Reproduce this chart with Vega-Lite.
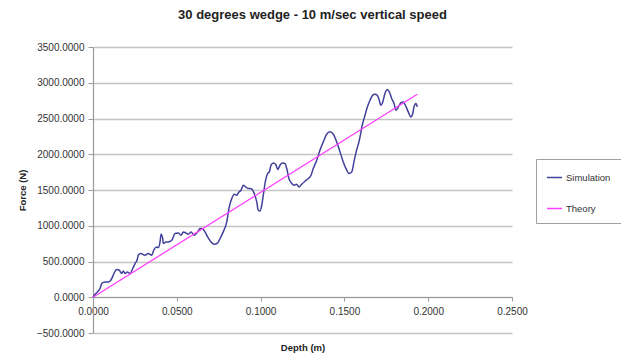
{
  "$schema": "https://vega.github.io/schema/vega-lite/v6.json",
  "autosize": {"type": "none"},
  "padding": {"left": 93, "top": 47, "right": 109, "bottom": 23},
  "width": 419,
  "height": 286,
  "background": "white",
  "title": {
    "text": "30 degrees wedge - 10 m/sec vertical speed",
    "font": "Liberation Sans",
    "fontSize": 13,
    "fontWeight": "bold",
    "color": "#222222",
    "anchor": "middle",
    "dx": 10,
    "offset": 20
  },
  "config": {
    "view": {"stroke": null},
    "font": "Liberation Sans",
    "axis": {"labelOverlap": false, "labelFlush": false}
  },
  "datasets": {
    "sim": [
      {"depth": 0, "force": 0}, {"depth": 0.0012, "force": 42}, {"depth": 0.0026, "force": 74}, {"depth": 0.0042, "force": 122},
      {"depth": 0.0052, "force": 192}, {"depth": 0.0072, "force": 214}, {"depth": 0.0091, "force": 214}, {"depth": 0.0112, "force": 262},
      {"depth": 0.0125, "force": 332}, {"depth": 0.0141, "force": 388}, {"depth": 0.0157, "force": 378}, {"depth": 0.0171, "force": 332},
      {"depth": 0.0181, "force": 368}, {"depth": 0.0191, "force": 332}, {"depth": 0.0205, "force": 354}, {"depth": 0.0221, "force": 332},
      {"depth": 0.0237, "force": 402}, {"depth": 0.0251, "force": 471}, {"depth": 0.0264, "force": 527}, {"depth": 0.0270, "force": 588},
      {"depth": 0.0285, "force": 611}, {"depth": 0.0310, "force": 588}, {"depth": 0.0330, "force": 611}, {"depth": 0.0350, "force": 588},
      {"depth": 0.0364, "force": 667}, {"depth": 0.0380, "force": 704}, {"depth": 0.0390, "force": 695}, {"depth": 0.0400, "force": 774},
      {"depth": 0.0406, "force": 881}, {"depth": 0.0416, "force": 821}, {"depth": 0.0419, "force": 751}, {"depth": 0.0436, "force": 774},
      {"depth": 0.0449, "force": 774}, {"depth": 0.0470, "force": 797}, {"depth": 0.0489, "force": 891}, {"depth": 0.0509, "force": 900},
      {"depth": 0.0525, "force": 867}, {"depth": 0.0539, "force": 914}, {"depth": 0.0553, "force": 900}, {"depth": 0.0569, "force": 881},
      {"depth": 0.0585, "force": 914}, {"depth": 0.0604, "force": 867}, {"depth": 0.0619, "force": 900}, {"depth": 0.0628, "force": 928},
      {"depth": 0.0638, "force": 961}, {"depth": 0.0652, "force": 961}, {"depth": 0.0668, "force": 914}, {"depth": 0.0684, "force": 844},
      {"depth": 0.0704, "force": 774}, {"depth": 0.0724, "force": 741}, {"depth": 0.0744, "force": 760}, {"depth": 0.0758, "force": 821},
      {"depth": 0.0777, "force": 914}, {"depth": 0.0798, "force": 1053}, {"depth": 0.0811, "force": 1241}, {"depth": 0.0828, "force": 1381},
      {"depth": 0.0843, "force": 1441}, {"depth": 0.0857, "force": 1427}, {"depth": 0.0871, "force": 1473}, {"depth": 0.0883, "force": 1497},
      {"depth": 0.0897, "force": 1567}, {"depth": 0.0911, "force": 1543}, {"depth": 0.0927, "force": 1521}, {"depth": 0.0937, "force": 1521},
      {"depth": 0.0950, "force": 1507}, {"depth": 0.0962, "force": 1451}, {"depth": 0.0977, "force": 1333}, {"depth": 0.0986, "force": 1217},
      {"depth": 0.0996, "force": 1207}, {"depth": 0.1007, "force": 1287}, {"depth": 0.1016, "force": 1427}, {"depth": 0.1030, "force": 1637},
      {"depth": 0.1042, "force": 1731}, {"depth": 0.1052, "force": 1753}, {"depth": 0.1062, "force": 1847}, {"depth": 0.1076, "force": 1879},
      {"depth": 0.1090, "force": 1861}, {"depth": 0.1102, "force": 1787}, {"depth": 0.1116, "force": 1847}, {"depth": 0.1129, "force": 1879},
      {"depth": 0.1146, "force": 1870}, {"depth": 0.1156, "force": 1800}, {"depth": 0.1169, "force": 1661}, {"depth": 0.1186, "force": 1591},
      {"depth": 0.1201, "force": 1567}, {"depth": 0.1215, "force": 1581}, {"depth": 0.1229, "force": 1543}, {"depth": 0.1245, "force": 1581},
      {"depth": 0.1265, "force": 1623}, {"depth": 0.1285, "force": 1661}, {"depth": 0.1301, "force": 1707}, {"depth": 0.1314, "force": 1800},
      {"depth": 0.1335, "force": 1917}, {"depth": 0.1354, "force": 2057}, {"depth": 0.1374, "force": 2173}, {"depth": 0.1394, "force": 2280},
      {"depth": 0.1414, "force": 2313}, {"depth": 0.1434, "force": 2280}, {"depth": 0.1454, "force": 2173}, {"depth": 0.1474, "force": 2033},
      {"depth": 0.1493, "force": 1893}, {"depth": 0.1514, "force": 1777}, {"depth": 0.1527, "force": 1731}, {"depth": 0.1544, "force": 1753},
      {"depth": 0.1559, "force": 1917}, {"depth": 0.1573, "force": 2057}, {"depth": 0.1587, "force": 2173}, {"depth": 0.1609, "force": 2430},
      {"depth": 0.1623, "force": 2546}, {"depth": 0.1637, "force": 2662}, {"depth": 0.1653, "force": 2756}, {"depth": 0.1669, "force": 2826},
      {"depth": 0.1683, "force": 2840}, {"depth": 0.1696, "force": 2826}, {"depth": 0.1708, "force": 2756}, {"depth": 0.1717, "force": 2686},
      {"depth": 0.1729, "force": 2732}, {"depth": 0.1742, "force": 2850}, {"depth": 0.1756, "force": 2906}, {"depth": 0.1768, "force": 2872},
      {"depth": 0.1782, "force": 2780}, {"depth": 0.1796, "force": 2710}, {"depth": 0.1808, "force": 2616}, {"depth": 0.1822, "force": 2662},
      {"depth": 0.1836, "force": 2718}, {"depth": 0.1851, "force": 2732}, {"depth": 0.1868, "force": 2662}, {"depth": 0.1881, "force": 2592},
      {"depth": 0.1896, "force": 2522}, {"depth": 0.1908, "force": 2570}, {"depth": 0.1915, "force": 2662}, {"depth": 0.1927, "force": 2710},
      {"depth": 0.1935, "force": 2662}
    ],
    "theory": [
      {"depth": 0, "force": 0}, {"depth": 0.1935, "force": 2840}
    ]
  },
  "encoding": {
    "x": {
      "field": "depth", "type": "quantitative",
      "scale": {"domain": [0, 0.25], "nice": false, "zero": false},
      "axis": {
        "title": "Depth (m)",
        "values": [0, 0.05, 0.1, 0.15, 0.2, 0.25],
        "format": ".4f",
        "offset": -36,
        "grid": false,
        "labelOverlap": false,
        "labelFlush": false,
        "domainColor": "#9a9a9a",
        "domainWidth": 1.2,
        "tickColor": "#9a9a9a",
        "tickSize": 4,
        "labelFont": "Liberation Sans",
        "labelFontSize": 10,
        "labelColor": "#333333",
        "labelPadding": 5,
        "titleFont": "Liberation Sans",
        "titleFontSize": 9.5,
        "titleFontWeight": "bold",
        "titleColor": "#222222",
        "titlePadding": 26
      }
    },
    "y": {
      "field": "force", "type": "quantitative",
      "scale": {"domain": [-500, 3500], "nice": false, "zero": false},
      "axis": {
        "title": "Force (N)",
        "values": [-500, 0, 500, 1000, 1500, 2000, 2500, 3000, 3500],
        "format": ".4f",
        "grid": true,
        "labelOverlap": false,
        "labelFlush": false,
        "gridColor": "#c4c4c4",
        "gridWidth": 1.4,
        "domainColor": "#9a9a9a",
        "domainWidth": 1.2,
        "tickColor": "#9a9a9a",
        "tickSize": 5,
        "labelFont": "Liberation Sans",
        "labelFontSize": 10,
        "labelColor": "#333333",
        "labelPadding": 4,
        "titleFont": "Liberation Sans",
        "titleFontSize": 9.5,
        "titleFontWeight": "bold",
        "titleColor": "#222222",
        "titlePadding": 9
      }
    },
    "color": {
      "field": "series", "type": "nominal",
      "scale": {"domain": ["Simulation", "Theory"], "range": ["#40409c", "#ff40ff"]},
      "legend": {
        "title": null,
        "orient": "none",
        "legendX": 443,
        "legendY": 112,
        "strokeColor": "#a0a0a0",
        "fillColor": "white",
        "padding": 10,
        "cornerRadius": 0,
        "symbolType": "stroke",
        "symbolSize": 225,
        "symbolStrokeWidth": 1.5,
        "rowPadding": 18,
        "labelFont": "Liberation Sans",
        "labelFontSize": 9.5,
        "labelColor": "#333333",
        "labelOffset": 3
      }
    }
  },
  "layer": [
    {
      "data": {"name": "sim"},
      "transform": [{"calculate": "'Simulation'", "as": "series"}],
      "mark": {"type": "line", "strokeWidth": 1.5, "interpolate": "monotone"}
    },
    {
      "data": {"name": "theory"},
      "transform": [{"calculate": "'Theory'", "as": "series"}],
      "mark": {"type": "line", "strokeWidth": 1.3}
    }
  ]
}
